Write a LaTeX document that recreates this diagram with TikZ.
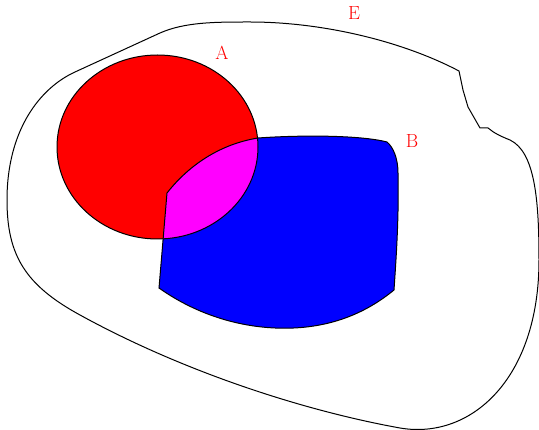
\documentclass[tikz,border=0pt]{standalone}
\usepackage{xcolor}
\usepackage{tikz}
\usetikzlibrary{positioning}

\definecolor{setred}{RGB}{255,0,0}
\definecolor{setblue}{RGB}{0,0,255}
\definecolor{setmagenta}{RGB}{255,0,255}

\newcommand{\setApath}{(157.5,147) ellipse [x radius=100.5pt, y radius=92pt]}
\newcommand{\setBpath}{(258,138) .. controls (300,135) and (360,135) .. (387,142)
  .. controls (393,147) and (398,158) .. (398,173)
  .. controls (399,220) and (396,260) .. (394,290)
  .. controls (360,318) and (320,330) .. (275,328)
  .. controls (230,326) and (190,310) .. (159,288)
  -- (167,193) .. controls (185,170) and (215,145) .. (258,138) -- cycle}

\begin{document}
\begin{tikzpicture}[x=1pt,y=-1pt,
    outline/.style={draw=black, line width=1pt},
    setlabel/.style={text=setred, font=\fontsize{19}{22}\selectfont}]
  \useasboundingbox (0,0) rectangle (539,430);
  \draw[outline] (459,71) .. controls (400,40) and (320,22) .. (250,22)
    .. controls (215,22) and (185,22) .. (160,33) -- (75,72)
    .. controls (40,88) and (7,130) .. (7,200)
    .. controls (7,255) and (25,285) .. (80,315)
    .. controls (180,370) and (300,410) .. (400,428)
    .. controls (470,440) and (539,380) .. (539,260)
    .. controls (539,200) and (535,152) .. (510,140)
    .. controls (500,136) and (494,133) .. (488,128)
    -- (480,128) -- (468,107) -- (463,90) -- cycle;
  \fill[setred] \setApath;
  \fill[setblue] \setBpath;
  \begin{scope}
    \clip \setApath;
    \fill[setmagenta] \setBpath;
  \end{scope}
  \draw[outline] \setApath;
  \draw[outline] \setBpath;
  \node[setlabel] (labE) at (354,13) {E};
  \node[setlabel] (labA) at (222,53) {A};
  \node[setlabel] (labB) at (412,141) {B};
\end{tikzpicture}
\end{document}
